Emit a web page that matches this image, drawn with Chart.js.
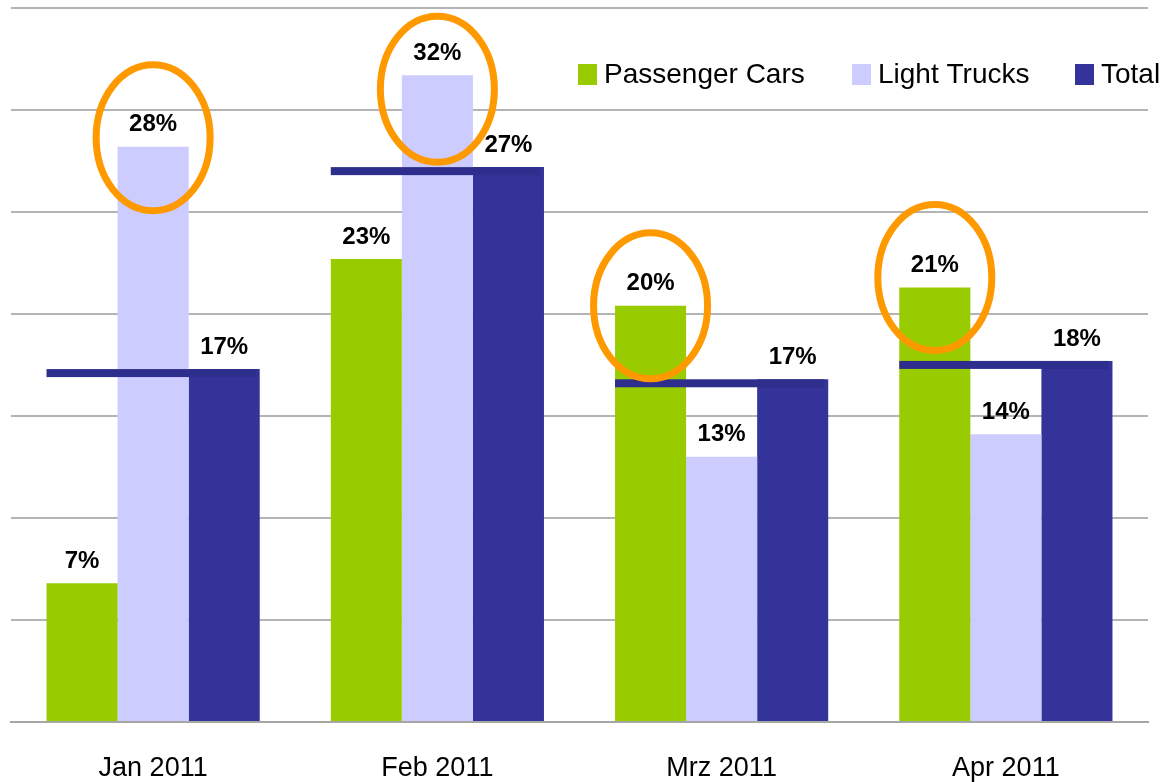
<!DOCTYPE html>
<html>
<head>
<meta charset="utf-8">
<script src="https://cdn.jsdelivr.net/npm/chart.js@4/dist/chart.umd.min.js"></script>
<style>
  html, body { margin: 0; padding: 0; background: #fff; }
  #wrap { width: 1161px; height: 782px; }
</style>
</head>
<body>
<div id="wrap"><canvas id="salesChart" width="1161" height="782"></canvas></div>
<script>
// categories and series (percent change)
const months = ['Jan 2011', 'Feb 2011', 'Mrz 2011', 'Apr 2011'];
const seriesNames = ['Passenger Cars', 'Light Trucks', 'Total'];
const passengerCars = [6.8, 22.7, 20.4, 21.3];
const lightTrucks = [28.2, 31.7, 13.0, 14.1];
const total = [17.3, 27.2, 16.8, 17.7];
const labelsPC = ['7%', '23%', '20%', '21%'];
const labelsLT = ['28%', '32%', '13%', '14%'];
const labelsTotal = ['17%', '27%', '17%', '18%'];
// which bar is circled in each month: 0 = passenger cars, 1 = light trucks
const circledSeries = [1, 1, 0, 0];

const colors = ['#99CC00', '#CCCCFF', '#333399'];
const valueLabels = [labelsPC, labelsLT, labelsTotal];

// bold % labels over the bars + the total line across each group + orange circles
const overlayPlugin = {
    id: 'overlay',
    afterDatasetsDraw(chart) {
        const ctx = chart.ctx;
        const m0 = chart.getDatasetMeta(0);
        const m2 = chart.getDatasetMeta(2);

        // total line across the group
        ctx.save();
        ctx.fillStyle = '#2E2E8C';
        months.forEach((_, i) => {
            const a = m0.data[i];
            const c = m2.data[i];
            const left = a.x - a.width / 2;
            const right = c.x + c.width / 2 - 4;
            ctx.fillRect(left, c.y, right - left, 8);
        });
        ctx.restore();

        // value labels
        ctx.save();
        ctx.fillStyle = '#000';
        ctx.font = 'bold 24px "Liberation Sans", Arial, sans-serif';
        ctx.textAlign = 'center';
        ctx.textBaseline = 'middle';
        chart.data.datasets.forEach((ds, di) => {
            const meta = chart.getDatasetMeta(di);
            meta.data.forEach((bar, i) => {
                ctx.fillText(valueLabels[di][i], bar.x, bar.y - 22);
            });
        });
        ctx.restore();

        // orange circles
        const shift = [9, -14, 0, 10];
        ctx.save();
        ctx.strokeStyle = '#FF9900';
        ctx.lineWidth = 7;
        circledSeries.forEach((s, i) => {
            const bar = chart.getDatasetMeta(s).data[i];
            ctx.beginPath();
            ctx.ellipse(bar.x, bar.y - shift[i], 57, 73, 0, 0, Math.PI * 2);
            ctx.stroke();
        });
        ctx.restore();

        // legend, drawn inside the plot area at the top right
        ctx.save();
        ctx.font = '28px "Liberation Sans", Arial, sans-serif';
        ctx.textBaseline = 'middle';
        ctx.textAlign = 'left';
        const legendX = [578, 852, 1075];
        seriesNames.forEach((name, k) => {
            ctx.fillStyle = colors[k];
            ctx.fillRect(legendX[k], 64, 19, 21);
            ctx.fillStyle = '#000';
            ctx.fillText(name, legendX[k] + 26, 75);
        });
        ctx.restore();
    }
};

const ctx = document.getElementById('salesChart').getContext('2d');
const chart = new Chart(ctx, {
    type: 'bar',
    data: {
        labels: months,
        datasets: [
            { label: seriesNames[0], data: passengerCars, backgroundColor: colors[0] },
            { label: seriesNames[1], data: lightTrucks, backgroundColor: colors[1] },
            { label: seriesNames[2], data: total, backgroundColor: colors[2] }
        ]
    },
    options: {
        responsive: false,
        animation: false,
        layout: { padding: { left: 11, right: 13, top: 8, bottom: 0 } },
        datasets: {
            bar: { categoryPercentage: 0.75, barPercentage: 1.0, borderWidth: 0 }
        },
        plugins: {
            legend: { display: false },
            tooltip: { enabled: false }
        },
        scales: {
            x: {
                grid: { display: false, drawTicks: false },
                border: { color: '#A6A6A6', width: 2 },
                ticks: {
                    color: '#000',
                    padding: 30,
                    maxRotation: 0,
                    font: { family: '"Liberation Sans", Arial, sans-serif', size: 27 }
                },
                afterFit(scale) { scale.height = 60; }
            },
            y: {
                min: 0,
                max: 35,
                ticks: { display: false, stepSize: 5 },
                grid: { color: '#B4B4B4', lineWidth: 2, drawTicks: false },
                border: { display: false }
            }
        }
    },
    plugins: [overlayPlugin]
});
</script>
</body>
</html>
